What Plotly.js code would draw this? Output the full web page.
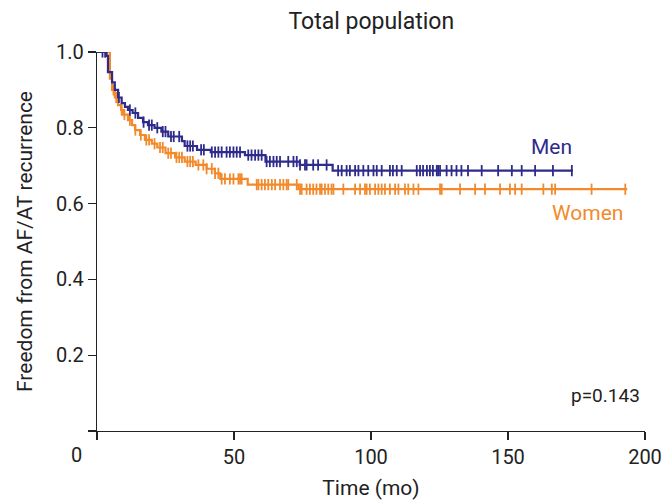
<!DOCTYPE html>
<html>
<head>
<meta charset="utf-8">
<script src="https://cdn.plot.ly/plotly-3.0.1.min.js"></script>
<style>html,body{margin:0;padding:0;background:#fff;}#chart{width:663px;height:502px;}</style>
</head>
<body>
<div id="chart"></div>
<script>
// Kaplan-Meier step data (time in months, survival fraction)
const menTimes = [0, 3.5, 4, 5.5, 6.5, 7.7, 9, 10.2, 11.3, 13, 15, 16.8, 18.6, 21, 23.5, 26, 31, 32, 36.5, 41.5, 54, 61.5, 74, 86, 173.7];
const menSurv  = [1.0, 0.99, 0.947, 0.92, 0.90, 0.88, 0.865, 0.855, 0.847, 0.839, 0.826, 0.815, 0.807, 0.80, 0.79, 0.777, 0.765, 0.752, 0.742, 0.736, 0.728, 0.711, 0.702, 0.687, 0.687];
const womenTimes = [0, 4.7, 5.5, 6.5, 7.7, 8.8, 9.5, 11.3, 12.8, 13.9, 15.7, 17.5, 20, 22, 25, 28.5, 32, 36, 40, 43, 45, 55, 73.5, 193.5];
const womenSurv  = [1.0, 0.93, 0.90, 0.88, 0.86, 0.847, 0.835, 0.82, 0.807, 0.794, 0.781, 0.768, 0.758, 0.748, 0.733, 0.722, 0.711, 0.702, 0.692, 0.68, 0.665, 0.65, 0.638, 0.638];

// Censoring times
const menCensor = [2, 3, 8, 12, 14, 17, 19, 20, 22, 24, 25, 27, 28, 30, 33, 34, 35, 38, 39,
  41.9, 43.1, 44.3, 45.5, 47.3, 48.5, 49.8, 51, 52.2, 55.2, 56.4, 57.7, 58.9, 60.1, 61.9, 63.1, 64.4, 65.6, 66.8, 69.8, 71.7, 72.9, 74.1, 75.9, 76.5, 78.9, 80.7, 83.8,
  88, 89.3, 91.1, 92.3, 94.2, 95.4, 97.2, 99, 100.9, 102.1, 103.9, 106.9, 108, 109.4, 111.2, 116.7, 117.9, 119, 120.4, 121.5, 122.6, 124, 124.5, 125.2, 127.6, 129.4, 131.2, 133, 135.4, 140.4, 146.4, 151.4, 155, 159.9, 166.4, 173.3];
const womenCensor = [3, 6, 7, 9, 10, 12, 14, 16, 18, 19, 21, 23, 24, 26, 27, 29, 30, 31, 33, 34, 35, 37,
  38.8, 40, 41.9, 43.1, 44.3, 45.5, 46.7, 48.5, 49.8, 51.6, 52.2, 52.8, 58.3, 58.9, 60.1, 61.3, 62.5, 63.8, 65, 66.8, 68, 69.2, 69.8, 72.9, 74.1, 74.7, 76.5, 77.7, 78.9, 80.1, 81.4, 82, 83.2, 84.4, 85.6, 86.3, 89.9, 94.2, 96, 97.8, 98.4, 99.6, 101.5, 102.7, 103.9, 105.1, 106.9, 108.8, 110, 112.4, 113.6, 115.5, 117.3, 125.2, 125.8, 132.5, 138, 141.6, 147.1, 150.7, 152.6, 155, 162.9, 166, 167.2, 180.5, 192.8];

const xTickVals = [0, 50, 100, 150, 200];
const xTickText = ['', '50', '100', '150', '200'];
const yTickVals = [0, 0.2, 0.4, 0.6, 0.8, 1.0];
const yTickText = ['', '0.2', '0.4', '0.6', '0.8', '1.0'];

const menColor = '#2e2b8a';
const womenColor = '#f28a2c';

function survAt(times, surv, t) {
  let s = surv[0];
  for (let i = 0; i < times.length; i++) { if (times[i] <= t) s = surv[i]; }
  return s;
}

const traces = [
  {x: womenTimes, y: womenSurv, type: 'scatter', mode: 'lines', line: {shape: 'hv', color: womenColor, width: 2.2}, hoverinfo: 'skip'},
  {x: womenCensor, y: womenCensor.map(t => survAt(womenTimes, womenSurv, t)), type: 'scatter', mode: 'markers',
   marker: {symbol: 'line-ns-open', size: 8, color: womenColor, line: {color: womenColor, width: 1.8}}, hoverinfo: 'skip'},
  {x: menTimes, y: menSurv, type: 'scatter', mode: 'lines', line: {shape: 'hv', color: menColor, width: 2.2}, hoverinfo: 'skip'},
  {x: menCensor, y: menCensor.map(t => survAt(menTimes, menSurv, t)), type: 'scatter', mode: 'markers',
   marker: {symbol: 'line-ns-open', size: 8, color: menColor, line: {color: menColor, width: 1.8}}, hoverinfo: 'skip'}
];

const fam = 'Roboto, Arial, sans-serif';
const ink = '#222';

const layout = {
  width: 663, height: 502,
  margin: {l: 97, r: 18, t: 52, b: 71},
  paper_bgcolor: '#fff', plot_bgcolor: '#fff',
  showlegend: false,
  font: {family: fam, color: ink, size: 20},
  title: {text: 'Total population', x: 0.56, xanchor: 'center', y: 0.958, yanchor: 'middle', font: {family: fam, size: 23, color: ink}},
  xaxis: {
    range: [0, 200], tickvals: xTickVals, ticktext: xTickText,
    showline: true, linecolor: ink, linewidth: 1.2, ticks: 'outside', ticklen: 8, tickwidth: 1.2, tickcolor: ink,
    showgrid: false, zeroline: false, tickfont: {family: fam, size: 20, color: ink},
    title: {text: 'Time (mo)', standoff: 12, font: {family: fam, size: 21, color: ink}}
  },
  yaxis: {
    range: [0, 1], tickvals: yTickVals, ticktext: yTickText,
    showline: true, linecolor: ink, linewidth: 1.2, ticks: 'outside', ticklen: 8, tickwidth: 1.2, tickcolor: ink,
    showgrid: false, zeroline: false, tickfont: {family: fam, size: 20, color: ink},
    title: {text: 'Freedom from AF/AT recurrence', standoff: 17, font: {family: fam, size: 21, color: ink}}
  },
  annotations: [
    {text: '0', xref: 'paper', yref: 'paper', x: -0.038, y: -0.063, xanchor: 'center', yanchor: 'middle', showarrow: false, font: {family: fam, size: 20, color: ink}},
    {text: 'Men', xref: 'x', yref: 'y', x: 166, y: 0.75, showarrow: false, font: {family: fam, size: 21, color: menColor}},
    {text: 'Women', xref: 'x', yref: 'y', x: 179, y: 0.576, showarrow: false, font: {family: fam, size: 21, color: womenColor}},
    {text: 'p=0.143', xref: 'x', yref: 'y', x: 185.5, y: 0.095, showarrow: false, font: {family: fam, size: 19, color: ink}}
  ]
};

Plotly.newPlot('chart', traces, layout, {displayModeBar: false, staticPlot: true});
</script>
</body>
</html>
